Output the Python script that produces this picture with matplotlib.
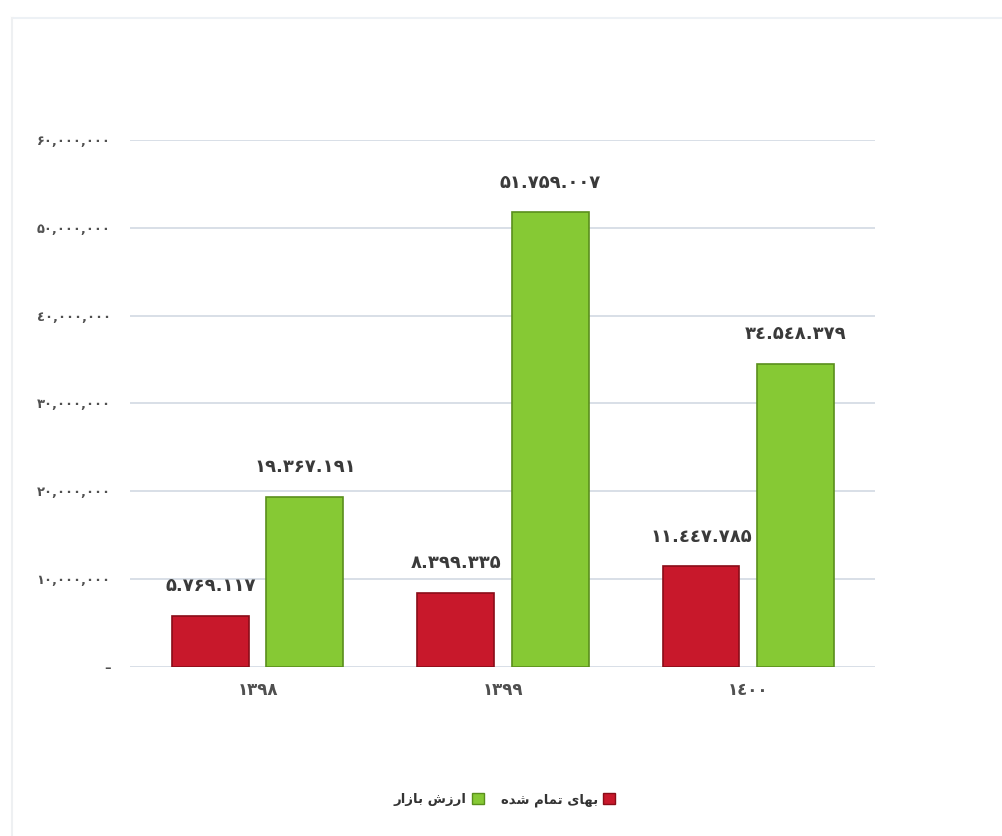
import matplotlib
matplotlib.use("Agg")
import matplotlib.pyplot as plt
import numpy as np
from matplotlib.patches import Rectangle
from matplotlib.lines import Line2D

# ---- data ----
years = ["۱۳۹۸", "۱۳۹۹", "۱٤۰۰"]
cost_values = [5769117, 8399335, 11447785]        # بهای تمام شده
market_values = [19367191, 51759007, 34548379]    # ارزش بازار
cost_labels = ["۵.۷۶۹.۱۱۷", "۸.۳۹۹.۳۳۵", "۱۱.٤٤۷.۷۸۵"]
market_labels = ["۱۹.۳۶۷.۱۹۱", "۵۱.۷۵۹.۰۰۷", "۳٤.۵٤۸.۳۷۹"]
ytick_values = [0, 10000000, 20000000, 30000000, 40000000, 50000000, 60000000]
ytick_labels = ["–", "۱۰,۰۰۰,۰۰۰", "۲۰,۰۰۰,۰۰۰", "۳۰,۰۰۰,۰۰۰",
                "٤۰,۰۰۰,۰۰۰", "۵۰,۰۰۰,۰۰۰", "۶۰,۰۰۰,۰۰۰"]
# legend labels (pre-shaped presentation forms, visual order)
legend_market = "\uFEAD\uFE8D\uFEAF\uFE8E\uFE91 \uFEB5\uFEAF\uFEAD\uFE8D"   # ارزش بازار
legend_cost = "\uFEE9\uFEAA\uFEB7 \uFEE1\uFE8E\uFEE4\uFE97 \uFEEF\uFE8E\uFEEC\uFE91"  # بهای تمام شده

red = "#c8182b"
red_edge = "#8a0c18"
green = "#86c934"
green_edge = "#5a8f1c"

plt.rcParams['font.family'] = ['DejaVu Sans']

fig = plt.figure(figsize=(10.03, 8.36), dpi=100)
fig.patch.set_facecolor("white")

# faint outer chart frame (top and left edges)
fig.add_artist(Line2D([12 / 1003, 1.0], [1 - 18 / 836, 1 - 18 / 836],
                      color="#edf1f5", linewidth=1.5, transform=fig.transFigure))
fig.add_artist(Line2D([12 / 1003, 12 / 1003], [0.0, 1 - 18 / 836],
                      color="#eef0f2", linewidth=1.5, transform=fig.transFigure))

ax = fig.add_axes([0.1296, 0.2022, 0.7428, 0.6303])

x = np.arange(len(years))
w = 0.314
off = 0.192
b1 = ax.bar(x - off, cost_values, width=w, color=red, edgecolor=red_edge, linewidth=1.2, zorder=3)
b2 = ax.bar(x + off, market_values, width=w, color=green, edgecolor=green_edge, linewidth=1.2, zorder=3)

for bars, labs in ((b1, cost_labels), (b2, market_labels)):
    for r, lab in zip(bars, labs):
        ax.annotate(lab, (r.get_x() + r.get_width() / 2, r.get_height()),
                    xytext=(0, 15), textcoords="offset points",
                    ha="center", va="bottom", fontsize=13, fontweight="bold",
                    color="#3a3a3a")

ax.set_ylim(0, 60000000)
ax.set_xlim(-0.522, 2.518)
ax.set_yticks(ytick_values)
ax.set_yticklabels(ytick_labels, fontsize=9.4, fontweight="bold", color="#505050")
ax.set_xticks(x)
ax.set_xticklabels(years, fontsize=12, fontweight="bold", color="#505050")
ax.tick_params(axis="both", length=0)
ax.tick_params(axis="y", pad=14)
ax.tick_params(axis="x", pad=10)
for s in ax.spines.values():
    s.set_visible(False)
ax.yaxis.grid(True, color="#d6dce5", linewidth=1.3, zorder=0)
ax.set_axisbelow(True)

handles = [Rectangle((0, 0), 1, 1, facecolor=green, edgecolor=green_edge),
           Rectangle((0, 0), 1, 1, facecolor=red, edgecolor=red_edge)]
leg = fig.legend(handles, [legend_market, legend_cost], loc="center",
                 bbox_to_anchor=(0.503, 0.043), ncol=2, frameon=False,
                 markerfirst=False, fontsize=9.5, handlelength=0.9, handleheight=0.9,
                 columnspacing=1.3, handletextpad=0.4)
for t in leg.get_texts():
    t.set_fontweight("bold")
    t.set_color("#333333")

fig.savefig("out.png", dpi=100, facecolor="white")
